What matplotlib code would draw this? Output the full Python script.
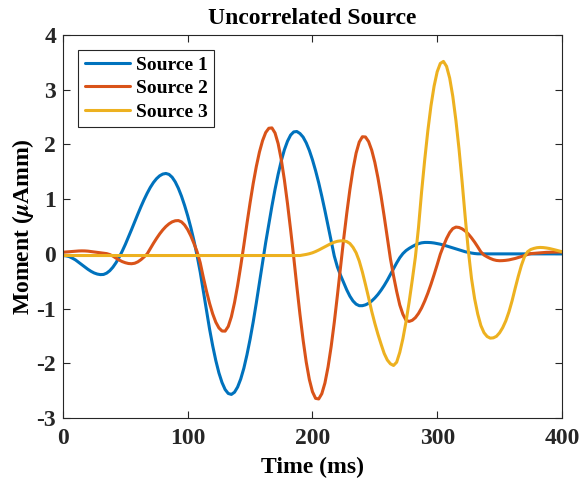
import matplotlib
matplotlib.use("Agg")
import matplotlib.pyplot as plt

# Time axis (ms), sampled every 2.5 ms from 0 to 400
time_ms = [i * 2.5 for i in range(161)]

source_1 = [
    -0.03, -0.036, -0.05, -0.078, -0.11, -0.153, -0.196, -0.240, -0.282, -0.319,
    -0.349, -0.369, -0.379, -0.376, -0.352, -0.308, -0.244, -0.162, -0.063, 0.050,
    0.174, 0.308, 0.446, 0.588, 0.727, 0.863, 0.991, 1.109, 1.215, 1.304,
    1.375, 1.427, 1.459, 1.47, 1.453, 1.401, 1.316, 1.199, 1.055, 0.885,
    0.695, 0.48, 0.24, -0.03, -0.33, -0.677, -1.036, -1.372, -1.678, -1.948,
    -2.175, -2.352, -2.48, -2.552, -2.569, -2.529, -2.434, -2.287, -2.09, -1.843,
    -1.56, -1.244, -0.894, -0.529, -0.152, 0.207, 0.546, 0.873, 1.18, 1.456,
    1.70, 1.904, 2.06, 2.172, 2.23, 2.237, 2.20, 2.135, 2.03, 1.891,
    1.72, 1.521, 1.30, 1.053, 0.79, 0.515, 0.23, -0.04, -0.24, -0.39,
    -0.524, -0.659, -0.773, -0.861, -0.919, -0.947, -0.947, -0.932, -0.904, -0.861,
    -0.806, -0.741, -0.664, -0.578, -0.482, -0.375, -0.27, -0.165, -0.07, 0.005,
    0.06, 0.10, 0.134, 0.164, 0.187, 0.202, 0.209, 0.209, 0.206, 0.199,
    0.189, 0.177, 0.162, 0.145, 0.127, 0.109, 0.090, 0.072, 0.055, 0.039,
    0.026, 0.015, 0.0065, 0.001, 0.0, 0.0, 0.0, 0.0, 0.0, 0.0,
    0.0, 0.0, 0.0, 0.0, 0.0, 0.0, 0.0, 0.0, 0.0, 0.0,
    0.0, 0.0, 0.0, 0.0, 0.0, 0.0, 0.0, 0.0, 0.0, 0.0,
    0.0,
]

source_2 = [
    0.03, 0.035, 0.04, 0.045, 0.05, 0.053, 0.055, 0.054, 0.05, 0.043,
    0.035, 0.028, 0.02, 0.012, 0.005, -0.012, -0.04, -0.078, -0.112, -0.141,
    -0.162, -0.176, -0.18, -0.171, -0.146, -0.106, -0.056, 0.0, 0.097, 0.192,
    0.282, 0.365, 0.438, 0.500, 0.549, 0.585, 0.605, 0.609, 0.585, 0.528,
    0.442, 0.329, 0.19, 0.04, -0.16, -0.428, -0.678, -0.903, -1.095, -1.248,
    -1.353, -1.410, -1.412, -1.326, -1.149, -0.893, -0.578, -0.222, 0.16, 0.556,
    0.935, 1.287, 1.598, 1.862, 2.07, 2.218, 2.296, 2.303, 2.21, 2.014,
    1.723, 1.351, 0.917, 0.437, -0.065, -0.601, -1.11, -1.575, -1.977, -2.296,
    -2.52, -2.641, -2.652, -2.556, -2.36, -2.067, -1.692, -1.250, -0.758, -0.235,
    0.27, 0.742, 1.174, 1.547, 1.843, 2.044, 2.141, 2.137, 2.053, 1.896,
    1.673, 1.389, 1.056, 0.686, 0.292, -0.089, -0.401, -0.686, -0.934, -1.104,
    -1.214, -1.235, -1.214, -1.166, -1.089, -0.988, -0.862, -0.718, -0.556, -0.380,
    -0.196, -0.005, 0.144, 0.281, 0.39, 0.462, 0.49, 0.483, 0.458, 0.418,
    0.362, 0.293, 0.215, 0.128, 0.037, -0.021, -0.054, -0.083, -0.106, -0.120,
    -0.125, -0.123, -0.118, -0.110, -0.098, -0.084, -0.067, -0.049, -0.029, -0.01,
    0.005, 0.010, 0.015, 0.02, 0.025, 0.028, 0.03, 0.032, 0.035, 0.035,
    0.035,
]

source_3 = [
    -0.03, -0.03, -0.03, -0.03, -0.03, -0.03, -0.03, -0.03, -0.03, -0.03,
    -0.03, -0.03, -0.03, -0.03, -0.03, -0.03, -0.03, -0.03, -0.03, -0.03,
    -0.03, -0.03, -0.03, -0.03, -0.03, -0.03, -0.03, -0.03, -0.03, -0.03,
    -0.03, -0.03, -0.03, -0.03, -0.03, -0.03, -0.03, -0.03, -0.03, -0.03,
    -0.03, -0.03, -0.03, -0.03, -0.03, -0.03, -0.03, -0.03, -0.03, -0.03,
    -0.03, -0.03, -0.03, -0.03, -0.03, -0.03, -0.03, -0.03, -0.03, -0.03,
    -0.03, -0.03, -0.03, -0.03, -0.03, -0.03, -0.03, -0.03, -0.03, -0.03,
    -0.03, -0.03, -0.03, -0.03, -0.03, -0.03, -0.03, -0.02, -0.01, 0.003,
    0.02, 0.043, 0.07, 0.10, 0.13, 0.16, 0.19, 0.213, 0.23, 0.238,
    0.24, 0.225, 0.19, 0.12, 0.02, -0.13, -0.33, -0.56, -0.80, -1.05,
    -1.27, -1.47, -1.65, -1.82, -1.94, -2.01, -2.04, -1.98, -1.80, -1.55,
    -1.24, -0.88, -0.48, -0.06, 0.48, 1.137, 1.722, 2.252, 2.706, 3.066,
    3.330, 3.482, 3.518, 3.428, 3.214, 2.880, 2.440, 1.915, 1.310, 0.66,
    0.05, -0.45, -0.82, -1.10, -1.31, -1.44, -1.51, -1.54, -1.535, -1.507,
    -1.443, -1.349, -1.224, -1.06, -0.86, -0.63, -0.41, -0.21, -0.05, 0.04,
    0.08, 0.10, 0.113, 0.118, 0.115, 0.108, 0.098, 0.085, 0.07, 0.055,
    0.04,
]

series_labels = ["Source 1", "Source 2", "Source 3"]
series_colors = ["#0072BD", "#D95319", "#EDB120"]

x_ticks = [0, 100, 200, 300, 400]
y_ticks = [-3, -2, -1, 0, 1, 2, 3, 4]

plt.rcParams["font.family"] = ["Liberation Serif", "DejaVu Serif"]
plt.rcParams["font.weight"] = "bold"
plt.rcParams["mathtext.fontset"] = "stix"
plt.rcParams["axes.unicode_minus"] = False

fig = plt.figure(figsize=(5.81, 4.87), dpi=100)
ax = fig.add_axes([0.1084, 0.1417, 0.8588, 0.7863])

for vals, lab, col in zip([source_1, source_2, source_3], series_labels, series_colors):
    ax.plot(time_ms, vals, color=col, linewidth=2.2, label=lab,
            solid_joinstyle="round", solid_capstyle="round")

ax.set_xlim(0, 400)
ax.set_ylim(-3, 4)
ax.set_xticks(x_ticks)
ax.set_yticks(y_ticks)
ax.tick_params(direction="in", length=5, width=0.8, top=True, right=True,
               labelsize=17, colors="#262626")
ax.tick_params(axis="x", pad=7)
ax.tick_params(axis="y", pad=5)
for lbl in ax.get_xticklabels() + ax.get_yticklabels():
    lbl.set_fontweight("bold")
for sp in ax.spines.values():
    sp.set_linewidth(0.8)
    sp.set_color("#262626")

ax.set_xlabel("Time (ms)", fontsize=17, fontweight="bold", labelpad=6)
ax.set_ylabel(r"Moment ($\mathbfit{\mu}$Amm)", fontsize=17, fontweight="bold", labelpad=0)
ax.set_title("Uncorrelated Source", fontsize=17, fontweight="bold", pad=8)

leg = ax.legend(loc="upper left", bbox_to_anchor=(0.031, 0.961), borderaxespad=0,
                prop={"weight": "bold", "size": 14}, handlelength=2.35,
                handletextpad=0.3, labelspacing=0.3, borderpad=0.32,
                fancybox=False, framealpha=1, edgecolor="#262626")
leg.get_frame().set_linewidth(0.8)

fig.savefig("out.png", dpi=100)
